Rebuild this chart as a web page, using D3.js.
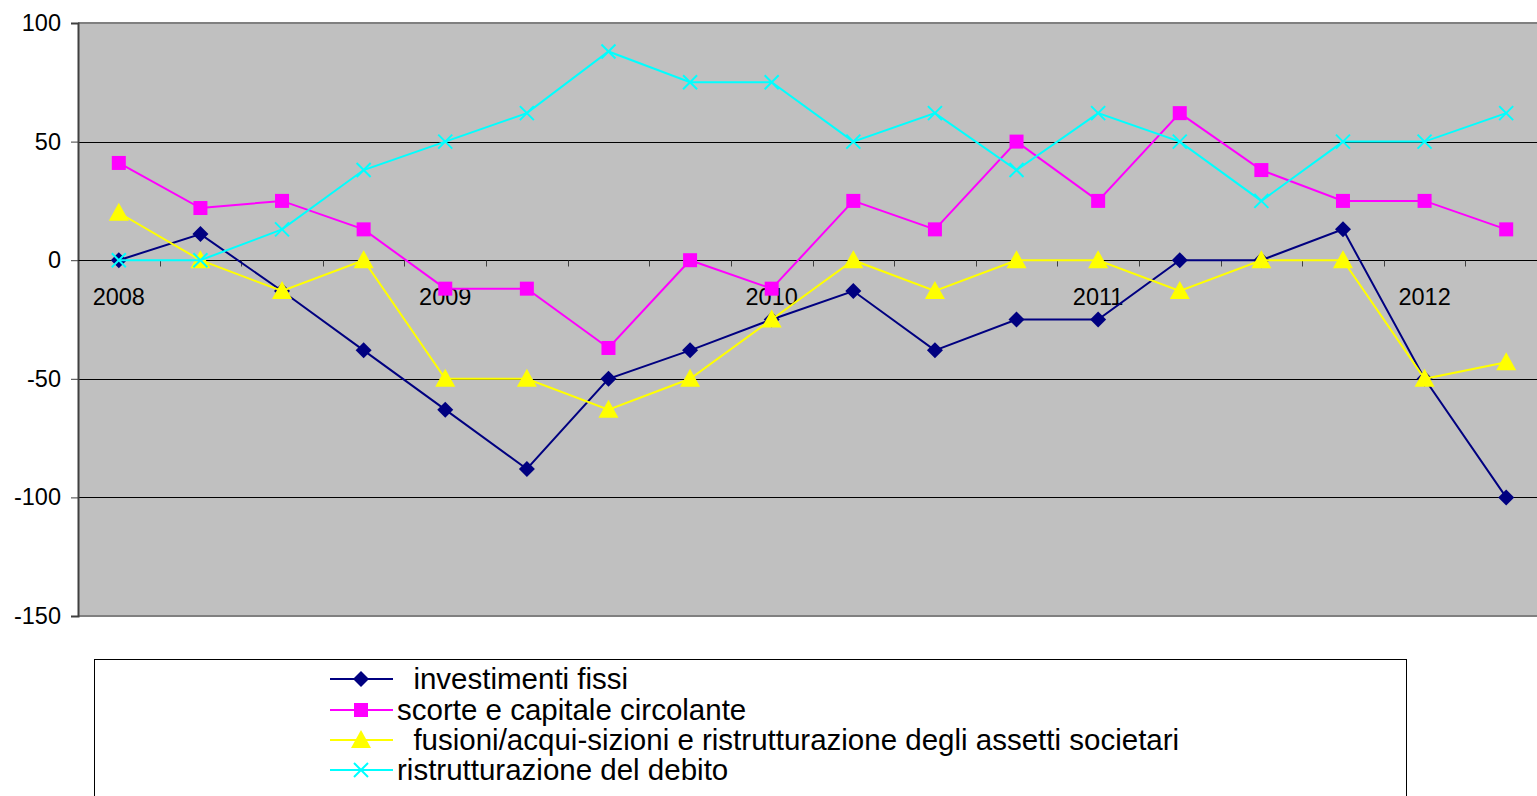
<!DOCTYPE html>
<html>
<head>
<meta charset="utf-8">
<script src="https://d3js.org/d3.v7.min.js"></script>
<style>
  body { margin: 0; background: #fff; overflow: hidden; }
  text { font-family: "Liberation Sans", Arial, sans-serif; fill: #000; white-space: pre; }
</style>
</head>
<body>
<div id="chart"></div>
<script>
// quarters 2008 Q1 .. 2012 Q2, only the first quarter of each year gets a label
var quarters = d3.range(18);
var yearLabels = ["2008", "", "", "", "2009", "", "", "", "2010", "", "", "", "2011", "", "", "", "2012", ""];
var yTicks = [100, 50, 0, -50, -100, -150];

var investimenti = [0, 11, -13, -38, -63, -88, -50, -38, -25, -13, -38, -25, -25, 0, 0, 13, -50, -100];
var scorte = [41, 22, 25, 13, -12, -12, -37, 0, -12, 25, 13, 50, 25, 62, 38, 25, 25, 13];
var fusioni = [20, 0, -13, 0, -50, -50, -63, -50, -25, 0, -13, 0, 0, -13, 0, 0, -50, -43];
var debito = [0, 0, 13, 38, 50, 62, 88, 75, 75, 50, 62, 38, 62, 50, 25, 50, 50, 62];

var seriesNames = ["  investimenti fissi", "scorte e capitale circolante",
    "  fusioni/acqui-sizioni e ristrutturazione degli assetti societari", "ristrutturazione del debito"];
var seriesColors = ["#000080", "#ff00ff", "#ffff00", "#00ffff"];
var seriesShapes = ["diamond", "square", "triangle", "cross"];
var seriesData = [investimenti, scorte, fusioni, debito];

var W = 1537, H = 796;
var plot = { left: 78, top: 23, right: 1547, bottom: 616 };

var svg = d3.select("#chart").append("svg")
    .attr("width", W)
    .attr("height", H);

var x = d3.scaleBand()
    .domain(quarters)
    .range([plot.left, plot.right]);

var y = d3.scaleLinear()
    .domain([-150, 100])
    .range([plot.bottom, plot.top]);

// plot background
svg.append("rect")
    .attr("x", plot.left)
    .attr("y", plot.top)
    .attr("width", plot.right - plot.left)
    .attr("height", plot.bottom - plot.top)
    .attr("fill", "#c0c0c0");

// border top / bottom
svg.append("line")
    .attr("x1", plot.left).attr("x2", plot.right)
    .attr("y1", plot.top).attr("y2", plot.top)
    .attr("stroke", "#808080").attr("stroke-width", 2);
svg.append("line")
    .attr("x1", plot.left).attr("x2", plot.right)
    .attr("y1", plot.bottom).attr("y2", plot.bottom)
    .attr("stroke", "#808080").attr("stroke-width", 2);

// gridlines
svg.append("g")
    .selectAll("line")
    .data(yTicks.filter(function (d) { return d != 100 && d != -150; }))
    .join("line")
    .attr("x1", plot.left).attr("x2", plot.right)
    .attr("y1", function (d) { return Math.round(y(d)) + 0.5; })
    .attr("y2", function (d) { return Math.round(y(d)) + 0.5; })
    .attr("stroke", "#000")
    .attr("stroke-width", 1);

// Y axis
var yAxis = svg.append("g")
    .attr("transform", "translate(" + plot.left + ",0)")
    .call(d3.axisLeft(y).tickValues(yTicks).tickSize(7).tickPadding(10)
        .tickFormat(function (d) { return String(d); }));
yAxis.select(".domain").attr("stroke", "#404040").attr("stroke-width", 2);
yAxis.selectAll(".tick line").attr("stroke", "#404040");
yAxis.selectAll("text")
    .style("font-size", "23.5px")
    .style("font-family", "Liberation Sans, Arial, sans-serif");

// X axis on the zero line, ticks between quarters
var xAxis = svg.append("g")
    .attr("transform", "translate(0," + (Math.round(y(0)) + 0.5) + ")");
xAxis.append("line")
    .attr("x1", plot.left).attr("x2", plot.right)
    .attr("stroke", "#000");
xAxis.selectAll(".qtick")
    .data(quarters)
    .join("line")
    .attr("class", "qtick")
    .attr("x1", function (d) { return Math.round(x(d)) + 0.5; })
    .attr("x2", function (d) { return Math.round(x(d)) + 0.5; })
    .attr("y1", 0).attr("y2", 6)
    .attr("stroke", "#404040");
xAxis.selectAll(".qlabel")
    .data(quarters)
    .join("text")
    .attr("class", "qlabel")
    .attr("x", function (d) { return x(d) + x.bandwidth() / 2; })
    .attr("y", 44)
    .attr("text-anchor", "middle")
    .style("font-size", "23.5px")
    .text(function (d) { return yearLabels[d]; });

var line = d3.line()
    .x(function (d, i) { return x(i) + x.bandwidth() / 2; })
    .y(function (d) { return y(d); });

function drawMarker(g, shape, color, cx, cy) {
    if (shape == "diamond") {
        g.append("path")
            .attr("d", "M" + cx + "," + (cy - 8) + "L" + (cx + 8) + "," + cy + "L" + cx + "," + (cy + 8) + "L" + (cx - 8) + "," + cy + "Z")
            .attr("fill", color);
    } else if (shape == "square") {
        g.append("rect")
            .attr("x", cx - 7).attr("y", cy - 7)
            .attr("width", 14).attr("height", 14)
            .attr("fill", color);
    } else if (shape == "triangle") {
        g.append("path")
            .attr("d", "M" + cx + "," + (cy - 10) + "L" + (cx + 10) + "," + (cy + 8) + "L" + (cx - 10) + "," + (cy + 8) + "Z")
            .attr("fill", color);
    } else {
        g.append("path")
            .attr("d", "M" + (cx - 7) + "," + (cy - 7) + "L" + (cx + 7) + "," + (cy + 7) + "M" + (cx + 7) + "," + (cy - 7) + "L" + (cx - 7) + "," + (cy + 7))
            .attr("stroke", color)
            .attr("stroke-width", 2)
            .attr("fill", "none");
    }
}

// series lines and markers
seriesData.forEach(function (data, s) {
    var g = svg.append("g");
    g.append("path")
        .datum(data)
        .attr("fill", "none")
        .attr("stroke", seriesColors[s])
        .attr("stroke-width", 2)
        .attr("d", line);
    data.forEach(function (v, i) {
        drawMarker(g, seriesShapes[s], seriesColors[s], x(i) + x.bandwidth() / 2, y(v));
    });
});

// legend
var legend = svg.append("g");
legend.append("rect")
    .attr("x", 94.5).attr("y", 659.5)
    .attr("width", 1312).attr("height", 160)
    .attr("fill", "#fff")
    .attr("stroke", "#000");

var rowY = [679, 710, 740, 770];
seriesNames.forEach(function (name, s) {
    var ly = rowY[s];
    legend.append("line")
        .attr("x1", 330).attr("x2", 393)
        .attr("y1", ly).attr("y2", ly)
        .attr("stroke", seriesColors[s])
        .attr("stroke-width", 2);
    drawMarker(legend, seriesShapes[s], seriesColors[s], 361, ly);
    legend.append("text")
        .attr("x", 397)
        .attr("y", ly)
        .attr("dy", "0.35em")
        .style("font-size", "29.5px")
        .text(name);
});
</script>
</body>
</html>
